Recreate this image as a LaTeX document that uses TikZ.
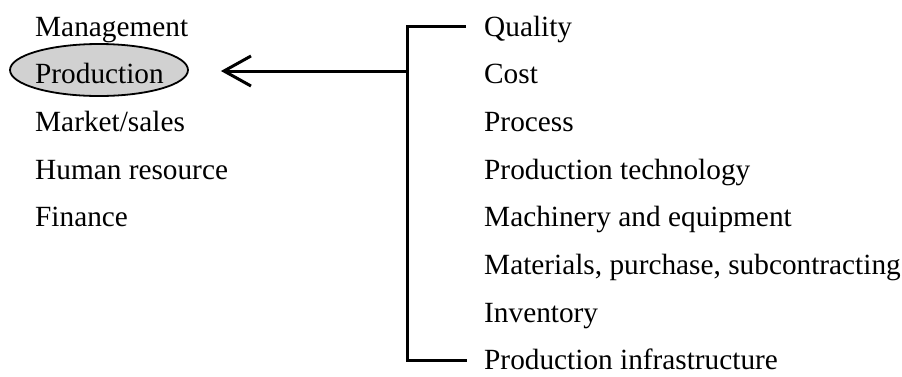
\documentclass[tikz,border=0pt]{standalone}
\usepackage{fontspec}
\setmainfont{Liberation Serif}
\usetikzlibrary{shapes.geometric,arrows.meta}

\tikzset{
  item/.style={anchor=base west, inner sep=0pt, font=\fontsize{29.3}{34}\selectfont},
  focus/.style={ellipse, draw, line width=1.8pt, fill=black!18,
                minimum width=178pt, minimum height=52pt, inner sep=0pt},
  branch/.style={line width=3pt},
  pointer/.style={line width=3pt, -{Straight Barb[length=27pt, width=30pt, line width=3pt]}}
}

\begin{document}
\begin{tikzpicture}[x=1pt, y=-1pt]
  \useasboundingbox (0,0) rectangle (902,376);

  % highlighted area on the left
  \node[focus] (prodmark) at (99,70) {};

  % functional areas
  \node[item] (mgmt)    at (35,36)    {Management};
  \node[item] (prod)    at (35,83.7)  {Production};
  \node[item] (market)  at (35,131.4) {Market/sales};
  \node[item] (hr)      at (35,179.1) {Human resource};
  \node[item] (finance) at (35,226.8) {Finance};

  % production topics
  \node[item] (quality)   at (484,36)    {Quality};
  \node[item] (cost)      at (484,83.7)  {Cost};
  \node[item] (process)   at (484,131.4) {Process};
  \node[item] (tech)      at (484,179.1) {Production technology};
  \node[item] (machinery) at (484,226.8) {Machinery and equipment};
  \node[item] (materials) at (484,274.5) {Materials, purchase, subcontracting};
  \node[item] (inventory) at (484,322.2) {Inventory};
  \node[item] (infra)     at (484,369.9) {Production infrastructure};

  % bracket grouping the topics
  \coordinate (btop)  at (407,26);
  \coordinate (bbot)  at (407,360);
  \coordinate (bjoin) at (407,71);
  \coordinate (qend)  at (466,26);
  \coordinate (iend)  at (467,360);
  \coordinate (tip)   at ([xshift=32pt]prodmark.east |- bjoin);

  \draw[branch] (qend) -- (btop) -- (bbot) -- (iend);
  \draw[pointer] (bjoin) -- (tip);
\end{tikzpicture}
\end{document}
